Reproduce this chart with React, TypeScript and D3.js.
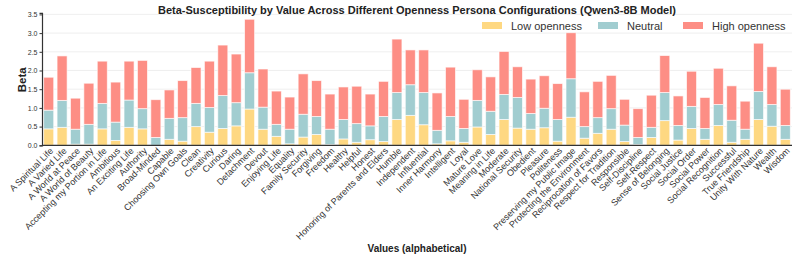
import React, { useEffect, useRef } from "react";
import * as d3 from "d3";

const categories = [
  "A Spiritual Life", "A Varied Life", "A World at Peace", "A World of Beauty",
  "Accepting my Portion in Life", "Ambitious", "An Exciting Life", "Authority",
  "Broad-Minded", "Capable", "Choosing Own Goals", "Clean", "Creativity", "Curious",
  "Daring", "Detachment", "Devout", "Enjoying Life", "Equality", "Family Security",
  "Forgiving", "Freedom", "Healthy", "Helpful", "Honest", "Honoring of Parents and Elders",
  "Humble", "Independent", "Influential", "Inner Harmony", "Intelligent", "Loyal",
  "Mature Love", "Meaning in Life", "Moderate", "National Security", "Obedient",
  "Pleasure", "Politeness", "Preserving my Public Image", "Protecting the Environment",
  "Reciprocation of Favors", "Respect for Tradition", "Responsible", "Self-Discipline",
  "Self-Respect", "Sense of Belonging", "Social Justice", "Social Order", "Social Power",
  "Social Recognition", "Successful", "True Friendship", "Unity With Nature", "Wealth",
  "Wisdom",
];

// cumulative tops, per segment
const lowTop = [
  0.44, 0.48, 0.03, 0.03, 0.44, 0.13, 0.48, 0.44, 0.0, 0.16, 0.11, 0.5, 0.35, 0.45,
  0.52, 0.97, 0.43, 0.24, 0.04, 0.22, 0.29, 0.02, 0.17, 0.08, 0.15, 0.1, 0.69, 0.8,
  0.55, 0.04, 0.12, 0.08, 0.49, 0.29, 0.69, 0.46, 0.43, 0.47, 0.11, 0.75, 0.19, 0.32,
  0.43, 0.1, 0.02, 0.21, 0.66, 0.14, 0.45, 0.16, 0.53, 0.08, 0.16, 0.69, 0.51, 0.16,
];
const neutralTop = [
  0.94, 1.2, 0.43, 0.56, 1.12, 0.62, 1.21, 0.98, 0.21, 0.72, 0.74, 1.12, 1.01, 1.33,
  1.14, 1.94, 1.02, 0.56, 0.43, 0.83, 0.77, 0.43, 0.69, 0.58, 0.52, 0.77, 1.41, 1.62,
  1.41, 0.4, 0.77, 0.45, 1.2, 0.91, 1.36, 1.28, 0.85, 0.99, 0.69, 1.78, 0.5, 0.74,
  0.98, 0.54, 0.21, 0.48, 1.41, 0.53, 1.04, 0.45, 1.09, 0.67, 0.43, 1.44, 1.09, 0.53,
];
const highTop = [
  1.82, 2.39, 1.26, 1.66, 2.25, 1.69, 2.25, 2.27, 1.22, 1.48, 1.73, 2.08, 2.25, 2.68,
  2.44, 3.37, 2.04, 1.45, 1.29, 1.91, 1.73, 1.37, 1.56, 1.58, 1.37, 1.71, 2.84, 2.55,
  2.55, 1.4, 2.09, 1.23, 2.02, 1.83, 2.51, 2.1, 1.77, 1.86, 1.65, 3.01, 1.43, 1.71,
  1.87, 1.23, 0.98, 1.34, 2.4, 1.32, 1.98, 1.28, 2.06, 1.59, 1.18, 2.73, 2.1, 1.5,
];

const seriesNames = ["Low openness", "Neutral", "High openness"];
const seriesColors = ["#fed882", "#a1cdd0", "#fd8e85"];
const yTicks = [0, 0.5, 1, 1.5, 2, 2.5, 3, 3.5];

const App = () => {
  const chartRef = useRef(null);

  useEffect(() => {
    const svg = d3.select(chartRef.current);
    svg.selectAll("*").remove();

    const width = 793;
    const height = 258;
    const margin = { top: 12.9, right: 1, bottom: 112.7, left: 42 };
    const font = "'Liberation Sans', Arial, sans-serif";

    const rows = categories.map((c, i) => ({
      name: c,
      low: lowTop[i],
      neutral: Math.max(0, neutralTop[i] - lowTop[i]),
      high: Math.max(0, highTop[i] - neutralTop[i]),
    }));
    const keys = ["low", "neutral", "high"];
    const stacked = d3.stack().keys(keys)(rows);

    const x = d3
      .scaleBand()
      .domain(categories)
      .range([margin.left, width - margin.right])
      .paddingInner(0.25)
      .paddingOuter(0.125);

    const y = d3
      .scaleLinear()
      .domain([0, 3.54])
      .range([height - margin.bottom, margin.top]);

    // grid
    svg
      .append("g")
      .selectAll("line")
      .data(yTicks)
      .enter()
      .append("line")
      .attr("x1", margin.left)
      .attr("x2", width - margin.right)
      .attr("y1", (d) => y(d))
      .attr("y2", (d) => y(d))
      .attr("stroke", "#ebebeb")
      .attr("stroke-width", 0.8);

    // bars
    svg
      .append("g")
      .selectAll("g")
      .data(stacked)
      .enter()
      .append("g")
      .attr("fill", (d, i) => seriesColors[i])
      .selectAll("rect")
      .data((d) => d)
      .enter()
      .append("rect")
      .attr("x", (d) => x(d.data.name))
      .attr("width", x.bandwidth())
      .attr("y", (d) => y(d[1]))
      .attr("height", (d) => Math.max(0, y(d[0]) - y(d[1])))
      .attr("stroke", "#ffffff")
      .attr("stroke-opacity", 0.7)
      .attr("stroke-width", 0.9);

    // y axis
    const yAxis = svg
      .append("g")
      .attr("transform", `translate(${margin.left},0)`)
      .call(d3.axisLeft(y).tickValues(yTicks).tickFormat(d3.format(".1f")).tickSize(2.5).tickPadding(2));
    yAxis.select(".domain").attr("stroke", "#333").attr("stroke-width", 1.2);
    yAxis.selectAll(".tick line").attr("stroke", "#333");
    yAxis
      .selectAll("text")
      .attr("font-family", font)
      .attr("font-size", 7)
      .attr("fill", "#333");

    // x axis
    const xAxis = svg
      .append("g")
      .attr("transform", `translate(0,${height - margin.bottom})`)
      .call(d3.axisBottom(x).tickSize(0).tickSizeOuter(0));
    xAxis
      .select(".domain")
      .attr("d", `M${margin.left},0H${width - margin.right}`)
      .attr("stroke", "#333")
      .attr("stroke-width", 1.2);
    xAxis
      .selectAll("text")
      .attr("font-family", font)
      .attr("font-size", 9)
      .attr("fill", "#333")
      .attr("text-anchor", "end")
      .attr("dy", null)
      .attr("transform", "translate(3,4) rotate(-45)");

    // titles
    svg
      .append("text")
      .attr("x", 417)
      .attr("y", 14)
      .attr("text-anchor", "middle")
      .attr("font-family", font)
      .attr("font-weight", "bold")
      .attr("font-size", 11)
      .attr("fill", "#222")
      .text("Beta-Susceptibility by Value Across Different Openness Persona Configurations (Qwen3-8B Model)");

    svg
      .append("text")
      .attr("transform", `translate(26,${y(1.75)}) rotate(-90)`)
      .attr("text-anchor", "middle")
      .attr("font-family", font)
      .attr("font-weight", "bold")
      .attr("font-size", 11.5)
      .attr("fill", "#222")
      .text("Beta");

    svg
      .append("text")
      .attr("x", (margin.left + width - margin.right) / 2)
      .attr("y", 252)
      .attr("text-anchor", "middle")
      .attr("font-family", font)
      .attr("font-weight", "bold")
      .attr("font-size", 10)
      .attr("fill", "#222")
      .text("Values (alphabetical)");

    // legend
    const legendX = [482, 598, 683];
    const legend = svg
      .append("g")
      .selectAll("g")
      .data(seriesNames)
      .enter()
      .append("g")
      .attr("transform", (d, i) => `translate(${legendX[i]},22)`);
    legend
      .append("rect")
      .attr("width", 20)
      .attr("height", 7)
      .attr("fill", (d, i) => seriesColors[i]);
    legend
      .append("text")
      .attr("x", 29)
      .attr("y", 7.5)
      .attr("font-family", font)
      .attr("font-size", 11)
      .attr("fill", "#333")
      .text((d) => d);
  }, []);

  return (
    <svg
      ref={chartRef}
      width={793}
      height={258}
      style={{ position: "absolute", left: 0, top: 0, background: "#fff" }}
    />
  );
};

export default App;
